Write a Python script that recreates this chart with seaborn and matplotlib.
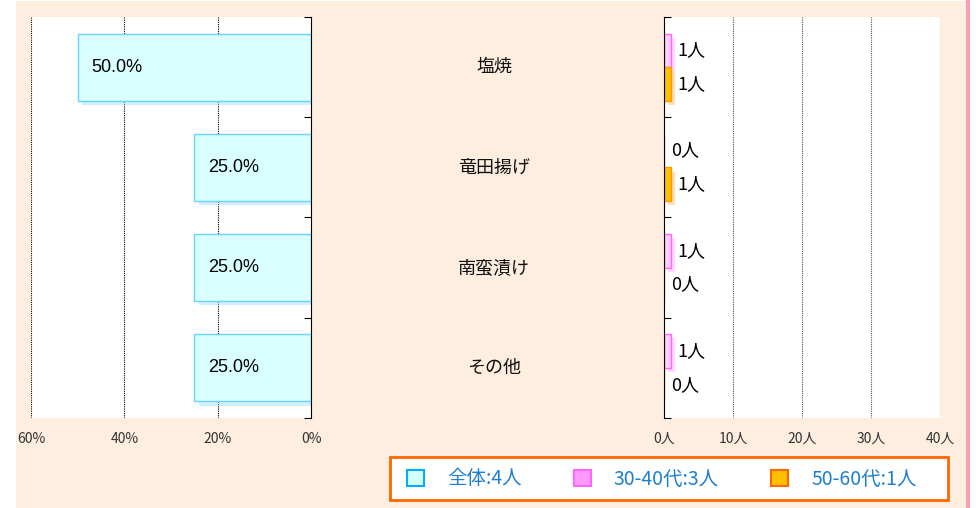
import matplotlib
matplotlib.use("Agg")
import matplotlib.pyplot as plt
import matplotlib.patheffects as pe
from matplotlib.patches import Rectangle, Patch
from matplotlib.transforms import blended_transform_factory
import pandas as pd
import seaborn as sns

# data
categories = ["塩焼", "竜田揚げ", "南蛮漬け", "その他"]
overall_pct = [50.0, 25.0, 25.0, 25.0]
groups = ["30-40代", "50-60代"]
counts_3040 = [1, 0, 1, 1]
counts_5060 = [1, 1, 0, 0]
legend_labels = ["全体:4人", "30-40代:3人", "50-60代:1人"]
pct_ticks = [60, 40, 20, 0]
cnt_ticks = [0, 10, 20, 30, 40]

sns.set_theme(style="white")
plt.rcParams["font.family"] = ["Noto Sans CJK JP", "DejaVu Sans"]

W, H = 978, 508
fig = plt.figure(figsize=(W / 100, H / 100), dpi=100, facecolor="white")

# peach background panel and pink edge on the right
fig.patches.append(Rectangle((16 / W, 0), (966 - 16) / W, 507 / H, transform=fig.transFigure,
                             facecolor="#FEEEDF", edgecolor="none", zorder=-10))
fig.patches.append(Rectangle((966 / W, 0), 4 / W, 1, transform=fig.transFigure,
                             facecolor="#F7A1B5", edgecolor="none", zorder=-10))

def box(x0, x1, y0, y1):
    return [x0 / W, 1 - y1 / H, (x1 - x0) / W, (y1 - y0) / H]

ax1 = fig.add_axes(box(31, 311, 17, 418))
ax2 = fig.add_axes(box(664, 940, 17, 418))

# left: overall percentage
df1 = pd.DataFrame({"cat": categories, "pct": overall_pct})
sns.barplot(data=df1, x="pct", y="cat", orient="h", ax=ax1, width=0.67,
            color="#D9FFFF", edgecolor="#66D4FF", linewidth=1, saturation=1)
for p in ax1.patches:
    p.set_path_effects([pe.SimplePatchShadow(offset=(3, -3), shadow_rgbFace="#9EDCF8", alpha=0.45),
                        pe.Normal()])
ax1.set_xlim(60, 0)
for i, v in enumerate(overall_pct):
    ax1.annotate(f"{v:.1f}%", xy=(v, i), xytext=(10, 0), textcoords="offset points",
                 ha="left", va="center", fontsize=13, color="black",
                 family=["Liberation Sans", "DejaVu Sans"])

# right: counts by age group
df2 = pd.DataFrame({
    "cat": categories * 2,
    "group": [groups[0]] * 4 + [groups[1]] * 4,
    "n": counts_3040 + counts_5060,
})
sns.barplot(data=df2, x="n", y="cat", hue="group", orient="h", ax=ax2, width=0.67,
            palette=["#FFD0FF", "#FFC000"], saturation=1, linewidth=1, legend=False)
shadow_cols = {0: "#FFA8FF", 1: "#FFB860"}
edge_cols = {0: "#FF66FF", 1: "#FF9900"}
for k, cont in enumerate(ax2.containers):
    for p in cont:
        p.set_edgecolor(edge_cols[k])
        p.set_path_effects([pe.SimplePatchShadow(offset=(3, -3), shadow_rgbFace=shadow_cols[k], alpha=0.45),
                            pe.Normal()])
    vals = counts_3040 if k == 0 else counts_5060
    for p, v in zip(cont, vals):
        yc = p.get_y() + p.get_height() / 2
        ax2.annotate(f"{v}人", xy=(v, yc), xytext=(5, 0), textcoords="offset points",
                     ha="left", va="center", fontsize=13, color="black")
ax2.set_xlim(0, 40)

# axis styling
for ax in (ax1, ax2):
    ax.set_facecolor("white")
    ax.set_xlabel("")
    ax.set_ylabel("")
    ax.set_ylim(len(categories) - 0.5, -0.5)
    ax.set_yticks([])
    ax.set_yticks([i - 0.5 for i in range(len(categories) + 1)], minor=True)
    for s in ax.spines.values():
        s.set_visible(False)
    ax.grid(False)

ax1.spines["right"].set_visible(True)
ax1.spines["right"].set_color("black")
ax1.spines["right"].set_linewidth(0.8)
ax1.yaxis.set_ticks_position("right")
ax1.tick_params(axis="y", which="minor", direction="in", length=5, width=0.8, color="black", right=True)
ax1.set_xticks(pct_ticks)
ax1.set_xticklabels([f"{t}%" for t in pct_ticks])
for t in [60, 40, 20]:
    ax1.axvline(t, color="black", linestyle=(0, (1, 1)), linewidth=0.8, zorder=0)

ax2.spines["left"].set_visible(True)
ax2.spines["left"].set_color("black")
ax2.spines["left"].set_linewidth(0.8)
ax2.yaxis.set_ticks_position("left")
ax2.tick_params(axis="y", which="minor", direction="in", length=5, width=0.8, color="black", left=True)
ax2.set_xticks(cnt_ticks)
ax2.set_xticklabels([f"{t}人" for t in cnt_ticks])
for t in [10, 20, 30, 40]:
    ax2.axvline(t, color="#555555", linestyle=(0, (1, 1)), linewidth=0.8, zorder=0)

for ax in (ax1, ax2):
    ax.tick_params(axis="x", which="both", length=0, pad=10, labelsize=10, labelcolor="#333333")

# category labels between the two panels
tr = blended_transform_factory(fig.transFigure, ax1.transData)
for i, c in enumerate(categories):
    ax1.text(494 / W, i, c, transform=tr, ha="center", va="center", fontsize=13, color="#111111")

# legend: white box with orange border, entries inside
fig.patches.append(Rectangle((390 / W, 1 - 500 / H), (948 - 390) / W, 43 / H,
                             transform=fig.transFigure, facecolor="white",
                             edgecolor="#FF6600", linewidth=2, zorder=2))
handles = [
    Patch(facecolor="#D5FFFF", edgecolor="#00B0F0", linewidth=1.5),
    Patch(facecolor="#FF99FF", edgecolor="#FF66FF", linewidth=1.5),
    Patch(facecolor="#FFC000", edgecolor="#FF6600", linewidth=1.5),
]
leg = fig.legend(handles, legend_labels, loc="center left",
                 bbox_to_anchor=(407 / W, 1 - 479 / H),
                 ncol=3, fontsize=14, frameon=False,
                 handlelength=0.85, handleheight=0.85, handletextpad=1.2,
                 columnspacing=2.7, borderpad=0, borderaxespad=0)
leg.set_zorder(3)
for t in leg.get_texts():
    t.set_color("#1F7FCF")

fig.savefig("out.png", dpi=100, facecolor=fig.get_facecolor())
